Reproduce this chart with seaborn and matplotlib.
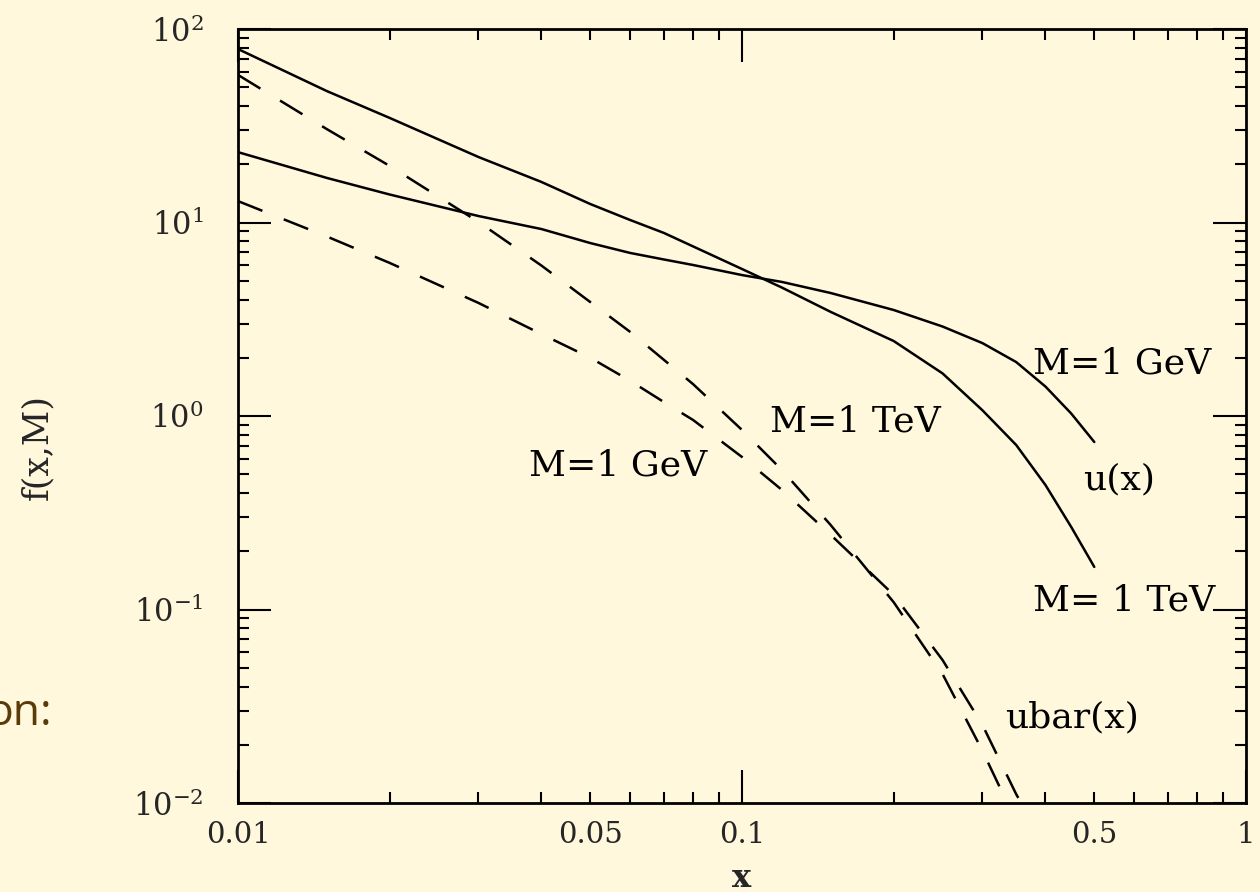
import matplotlib
matplotlib.use("Agg")
import matplotlib.pyplot as plt
import matplotlib.ticker as mticker
import numpy as np
import pandas as pd
import seaborn as sns

# ---- data ----
x_u = [0.01, 0.015, 0.02, 0.03, 0.04, 0.05, 0.06, 0.07, 0.08, 0.1, 0.12,
       0.15, 0.2, 0.25, 0.3, 0.35, 0.4, 0.45, 0.5]
u_tev = [78.8, 47.8, 34.7, 21.8, 16.2, 12.46, 10.3, 8.83, 7.52, 5.75, 4.61,
         3.45, 2.44, 1.66, 1.07, 0.708, 0.440, 0.267, 0.166]
u_gev = [23.1, 17.0, 13.95, 10.8, 9.25, 7.83, 6.96, 6.44, 6.03, 5.35, 4.93,
         4.32, 3.53, 2.90, 2.38, 1.90, 1.42, 1.03, 0.734]

x_ubar = [0.01, 0.015, 0.02, 0.03, 0.04, 0.05, 0.06, 0.07, 0.08, 0.1, 0.12,
          0.15, 0.2, 0.25, 0.3, 0.35, 0.37]
ubar_tev = [57.9, 30.4, 19.6, 10.07, 5.99, 3.88, 2.72, 1.95, 1.46, 0.847, 0.526,
            0.273, 0.109, 0.0464, 0.0186, 0.0080, 0.0061]
ubar_gev = [12.9, 8.47, 6.18, 3.84, 2.65, 2.00, 1.52, 1.18, 0.953, 0.614, 0.415,
            0.243, 0.119, 0.0548, 0.0253, 0.0111, 0.0086]

x_major = [0.01, 0.1, 1]
x_major_labels = ["0.01", "0.1", "1"]
x_minor = [0.02, 0.03, 0.04, 0.05, 0.06, 0.07, 0.08, 0.09,
           0.2, 0.3, 0.4, 0.5, 0.6, 0.7, 0.8, 0.9]
x_minor_labeled = {0.05: "0.05", 0.5: "0.5"}
y_major = [0.01, 0.1, 1, 10, 100]

# annotations: (text, x, y)
annotations = [
    ("M=1 GeV", 0.378, 1.667),
    ("u(x)", 0.4745, 0.415),
    ("M= 1 TeV", 0.378, 0.0994),
    ("M=1 TeV", 0.1137, 0.827),
    ("M=1 GeV", 0.0378, 0.495),
    ("ubar(x)", 0.3325, 0.0247),
]

BG = "#FFF8DC"
sns.set_style("ticks")
plt.rcParams["font.family"] = ["DejaVu Serif"]
plt.rcParams["mathtext.fontset"] = "dejavuserif"

fig = plt.figure(figsize=(12.6, 8.92), dpi=100, facecolor=BG)
ax = fig.add_axes([238 / 1260, 89 / 892, 1008 / 1260, 774 / 892])
ax.set_facecolor(BG)
ax.set_xscale("log")
ax.set_yscale("log")

lw = 1.8
dash = (0, (10.5, 9.2))
df_u = pd.DataFrame({"x": x_u, "tev": u_tev, "gev": u_gev})
df_ub = pd.DataFrame({"x": x_ubar, "tev": ubar_tev, "gev": ubar_gev})
sns.lineplot(data=df_u, x="x", y="tev", ax=ax, color="black", lw=lw)
sns.lineplot(data=df_u, x="x", y="gev", ax=ax, color="black", lw=lw)
sns.lineplot(data=df_ub, x="x", y="tev", ax=ax, color="black", lw=lw, linestyle=dash)
sns.lineplot(data=df_ub, x="x", y="gev", ax=ax, color="black", lw=lw, linestyle=dash)

ax.set_xlim(0.01, 1)
ax.set_ylim(0.01, 100)

ax.xaxis.set_major_locator(mticker.FixedLocator(x_major))
ax.xaxis.set_major_formatter(mticker.FixedFormatter(x_major_labels))
ax.xaxis.set_minor_locator(mticker.FixedLocator(x_minor))


def minor_fmt(v, pos):
    for k, s in x_minor_labeled.items():
        if abs(v - k) < 1e-9:
            return s
    return ""


ax.xaxis.set_minor_formatter(mticker.FuncFormatter(minor_fmt))
ax.yaxis.set_major_locator(mticker.FixedLocator(y_major))
ax.yaxis.set_major_formatter(mticker.LogFormatterSciNotation())
ax.yaxis.set_minor_locator(mticker.LogLocator(base=10, subs=np.arange(2, 10)))
ax.yaxis.set_minor_formatter(mticker.NullFormatter())

ax.tick_params(which="both", direction="in", top=True, right=True, color="black",
               width=1.5)
ax.tick_params(which="major", length=24)
ax.tick_params(which="minor", length=8)
ax.tick_params(axis="x", which="both", pad=13, labelsize=21)
ax.tick_params(axis="y", which="both", pad=25, labelsize=22)
for sp in ax.spines.values():
    sp.set_linewidth(2.0)
    sp.set_color("black")

ax.set_xlabel("x", fontsize=23, fontweight="bold")
ax.xaxis.set_label_coords(0.5, -0.077)
ax.set_ylabel("f(x,M)", fontsize=25)
ax.yaxis.set_label_coords(-0.1825, 0.46)

for txt, tx, ty in annotations:
    ax.text(tx, ty, txt, fontsize=26, ha="left", va="baseline", color="black")

fig.text(52 / 1260, 1 - 725 / 892, "on:", fontsize=32, ha="right", va="baseline",
         color="#5a3a08", family=["Open Sans", "DejaVu Sans"])

fig.savefig("out.png", dpi=100, facecolor=BG)
